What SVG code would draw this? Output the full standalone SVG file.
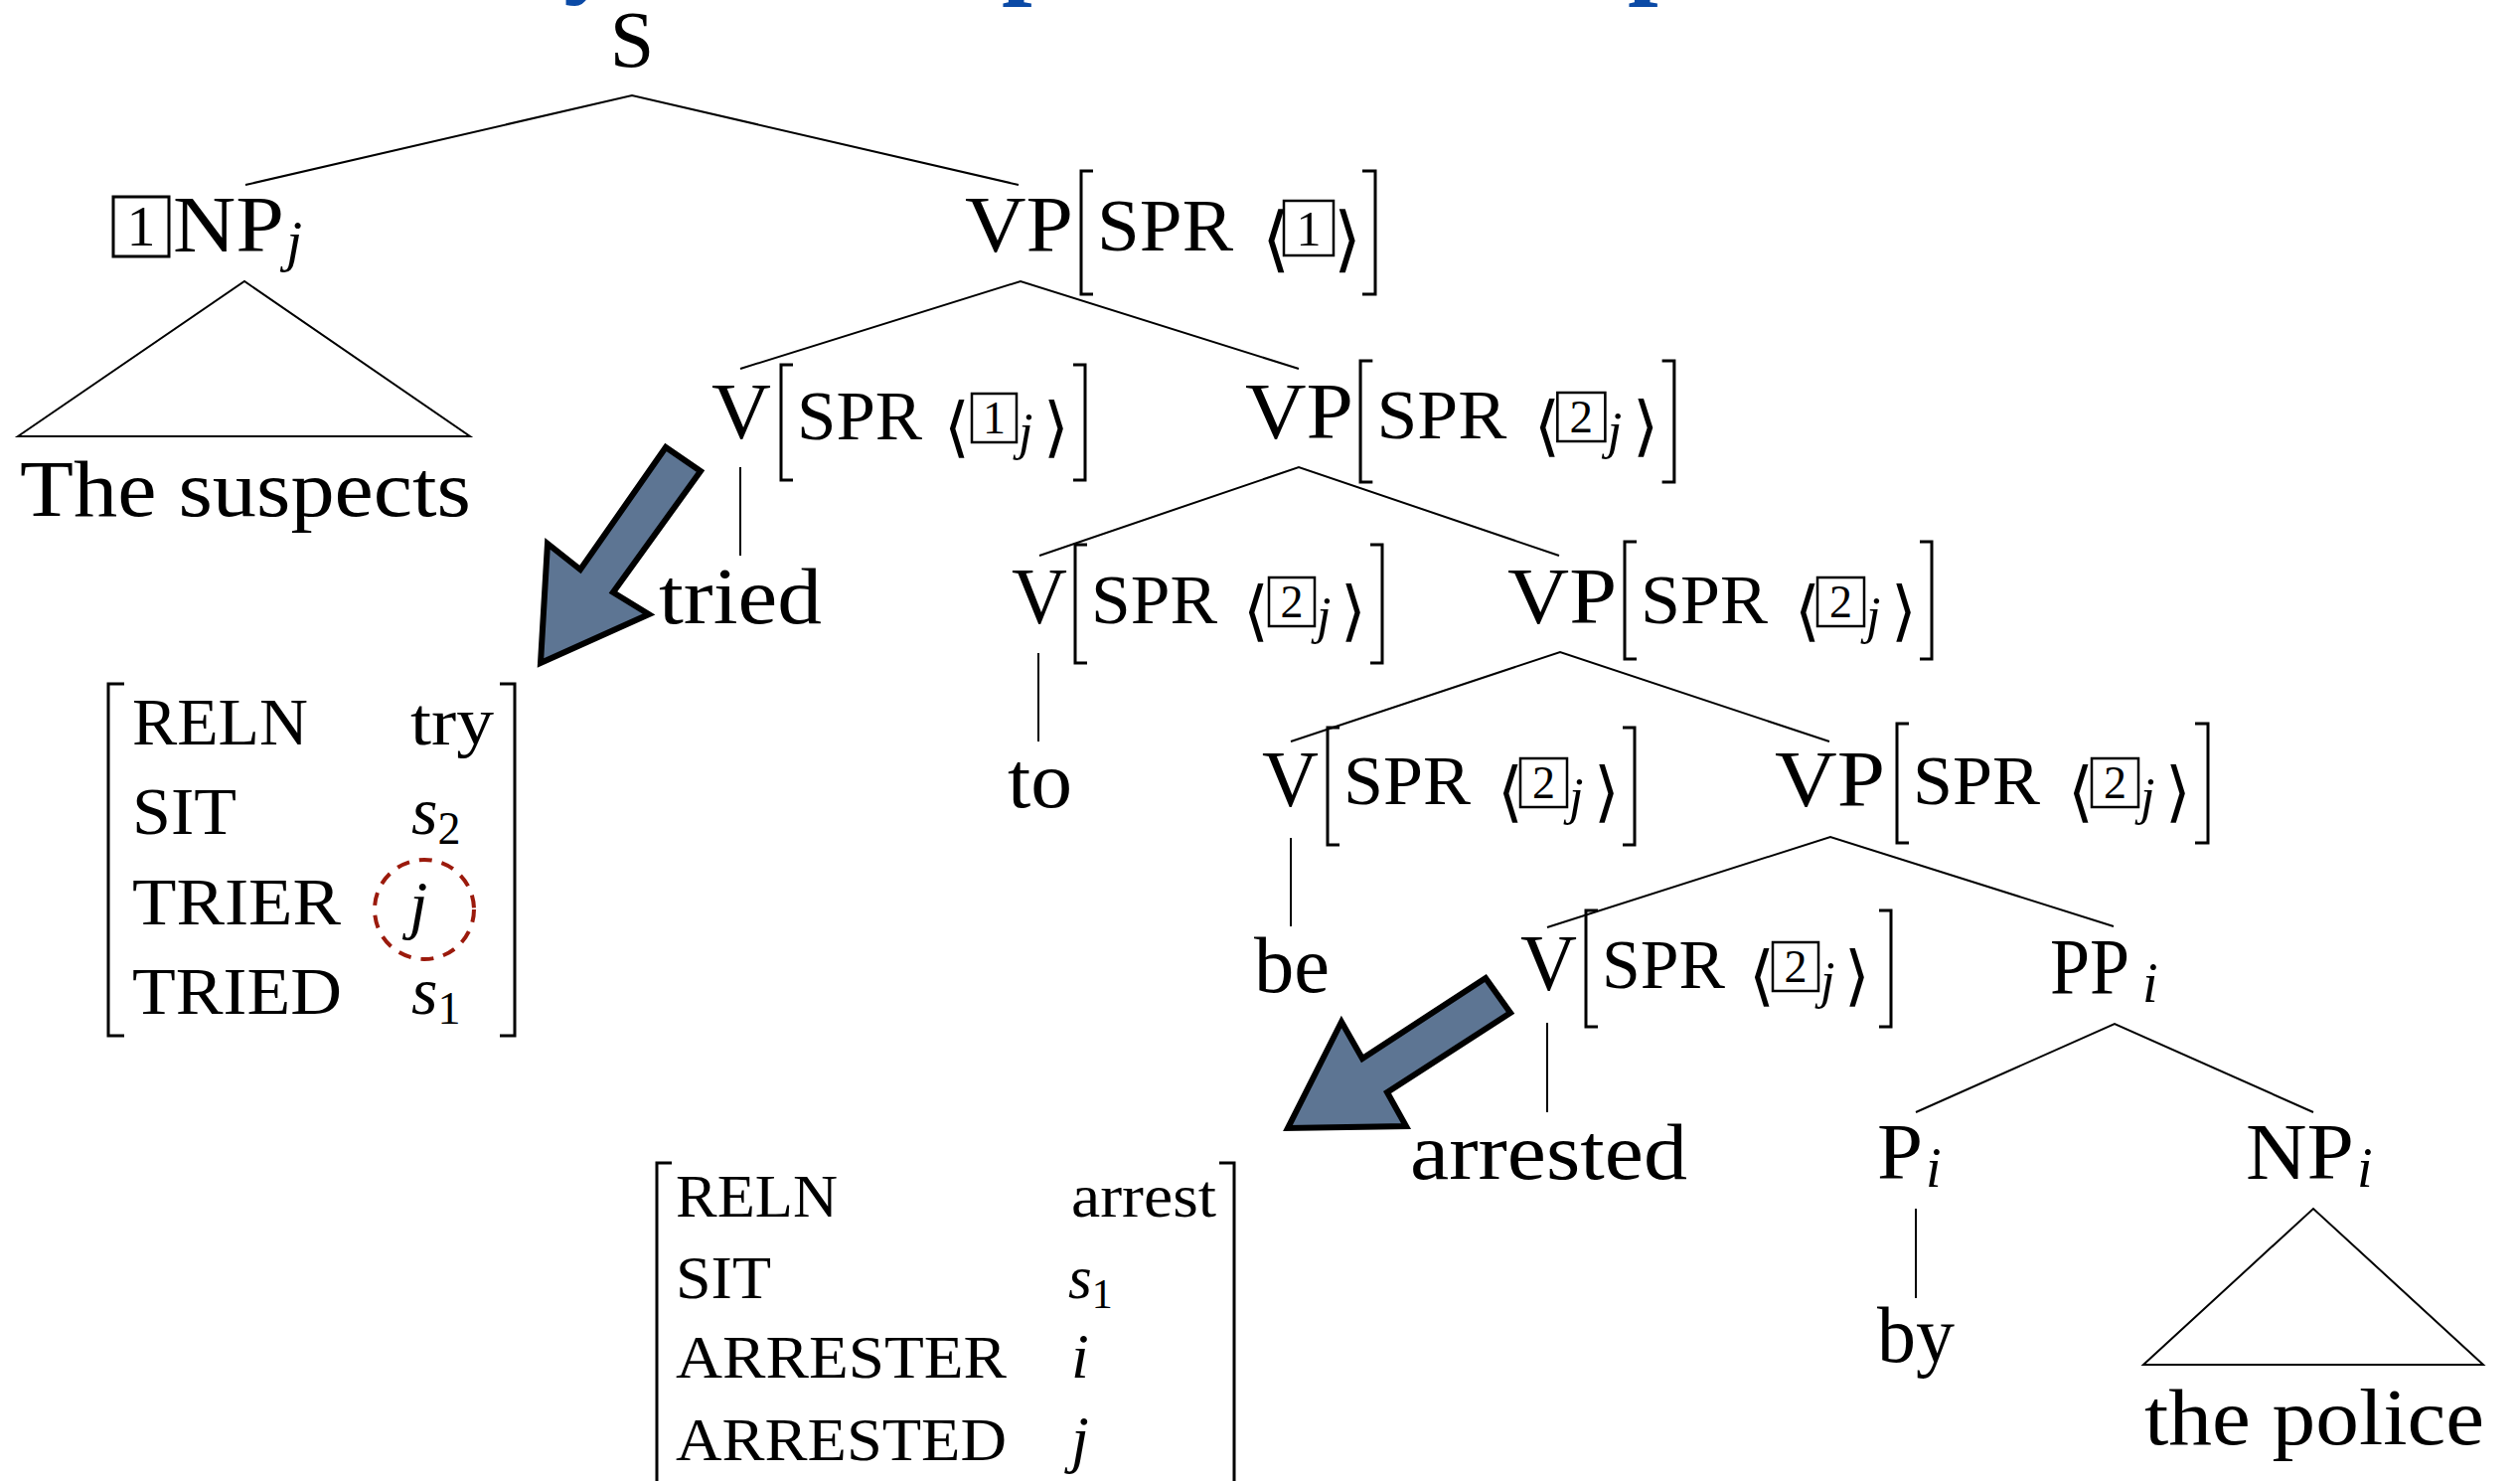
<svg xmlns="http://www.w3.org/2000/svg" width="2536" height="1490" viewBox="0 0 2536 1490">
<style>
text{font-family:"Liberation Serif","Times New Roman",serif;fill:#000}
.cat{font-size:80px}
.ft{font-size:70px}
.avm{font-size:68px}
.avm2{font-size:61px}
.it{font-style:italic}
.ang{font-family:"DejaVu Sans",sans-serif;font-size:66px}
.num{font-size:46px;text-anchor:middle}
.sub{font-style:italic;font-size:52px}
.ttl{font-weight:bold;font-size:110px;fill:#0b4aa6}
.ln{stroke:#000;stroke-width:2;fill:none}
.br{stroke:#000;stroke-width:3;fill:none}
.bx{stroke:#000;stroke-width:2.5;fill:none}
.arrow{fill:#5d7593;stroke:#000;stroke-width:6;stroke-linejoin:miter}
.circ{fill:none;stroke:#9b1a0c;stroke-width:4;stroke-dasharray:13 10}
</style>

<g id="title">
<text class="ttl" x="567" y="-17">y</text>
<text class="ttl" x="1008" y="-16">p</text>
<text class="ttl" x="1638" y="-16">p</text>
</g>

<g id="connectors">
<path class="ln" d="M247,186 L636,96 L1025,186"/>
<path class="ln" d="M18,439 L246,283 L473,439 Z"/>
<path class="ln" d="M745,371 L1027,283 L1307,371"/>
<path class="ln" d="M745,470 V559"/>
<path class="ln" d="M1046,559 L1307,470 L1569,559"/>
<path class="ln" d="M1045,657 V746"/>
<path class="ln" d="M1299,746 L1570,656 L1841,746"/>
<path class="ln" d="M1299,843 V932"/>
<path class="ln" d="M1557,933 L1842,842 L2127,932"/>
<path class="ln" d="M1557,1029 V1119"/>
<path class="ln" d="M1928,1119 L2128,1030 L2328,1119"/>
<path class="ln" d="M1928,1216 V1306"/>
<path class="ln" d="M2157,1373 L2328,1216 L2499,1373 Z"/>
</g>

<g id="node-S"><text class="cat" x="636" y="67" text-anchor="middle">S</text></g>

<g id="node-NPj">
<rect class="br" x="114" y="198" width="56" height="60"/>
<text class="num" x="142" y="247" style="font-size:58px">1</text>
<text class="cat" x="174" y="253" textLength="112" lengthAdjust="spacingAndGlyphs">NP</text>
<text class="sub" x="288" y="262" style="font-size:58px">j</text>
</g>
<g id="node-the-suspects"><text class="cat" x="20" y="519" textLength="454" lengthAdjust="spacingAndGlyphs">The suspects</text></g>

<g id="node-VP1">
<text class="cat" x="971" y="253" textLength="109" lengthAdjust="spacingAndGlyphs">VP</text>
<g transform="translate(1085,252)">
<path class="br" d="M15,-80H3V44H15"/>
<text class="ft" x="19" y="0" textLength="137" lengthAdjust="spacingAndGlyphs" style="font-size:74px">SPR</text>
<text class="ang" x="185" y="13" style="font-size:72px">⟨</text>
<rect class="bx" x="207" y="-50" width="50" height="55"/>
<text class="num" x="232" y="-5" style="font-size:50px">1</text>
<text class="ang" x="257" y="13" style="font-size:72px">⟩</text>
<path class="br" d="M286,-80H299V44H286"/>
</g>
</g>

<g id="node-V2">
<text class="cat" x="716" y="441" textLength="60" lengthAdjust="spacingAndGlyphs">V</text>
<g transform="translate(783,442)">
<path class="br" d="M15,-75H3V41H15"/>
<text class="ft" x="19" y="0" textLength="126" lengthAdjust="spacingAndGlyphs">SPR</text>
<text class="ang" x="167" y="10">⟨</text>
<rect class="bx" x="195" y="-46" width="45" height="49"/>
<text class="num" x="217.5" y="-6">1</text>
<text class="sub" x="242" y="10">j</text>
<text class="ang" x="267" y="10">⟩</text>
<path class="br" d="M297,-75H309V41H297"/>
</g>
</g>
<g id="node-tried"><text class="cat" x="663" y="627" textLength="164" lengthAdjust="spacingAndGlyphs">tried</text></g>

<g id="node-VP2">
<text class="cat" x="1253" y="441" textLength="109" lengthAdjust="spacingAndGlyphs">VP</text>
<g transform="translate(1366,441) scale(1.022,1)">
<path class="br" d="M15,-78H3V44H15"/>
<text class="ft" x="19" y="0" textLength="128" lengthAdjust="spacingAndGlyphs">SPR</text>
<text class="ang" x="174" y="10">⟨</text>
<rect class="bx" x="197" y="-46" width="47" height="49"/>
<text class="num" x="220.5" y="-6">2</text>
<text class="sub" x="246" y="10">j</text>
<text class="ang" x="271" y="10">⟩</text>
<path class="br" d="M300,-78H312V44H300"/>
</g>
</g>

<g id="node-V3">
<text class="cat" x="1018" y="627" textLength="56" lengthAdjust="spacingAndGlyphs">V</text>
<g transform="translate(1079,627)">
<path class="br" d="M15,-79H3V40H15"/>
<text class="ft" x="19" y="0" textLength="127" lengthAdjust="spacingAndGlyphs">SPR</text>
<text class="ang" x="172" y="10">⟨</text>
<rect class="bx" x="198" y="-46" width="46" height="49"/>
<text class="num" x="221" y="-6">2</text>
<text class="sub" x="246" y="10">j</text>
<text class="ang" x="270" y="10">⟩</text>
<path class="br" d="M300,-79H312V40H300"/>
</g>
</g>
<g id="node-to"><text class="cat" x="1014" y="812" textLength="65" lengthAdjust="spacingAndGlyphs">to</text></g>

<g id="node-VP3">
<text class="cat" x="1517" y="627" textLength="110" lengthAdjust="spacingAndGlyphs">VP</text>
<g transform="translate(1632,627)">
<path class="br" d="M15,-82H3V36H15"/>
<text class="ft" x="19" y="0" textLength="128" lengthAdjust="spacingAndGlyphs">SPR</text>
<text class="ang" x="174" y="10">⟨</text>
<rect class="bx" x="197" y="-46" width="47" height="49"/>
<text class="num" x="220.5" y="-6">2</text>
<text class="sub" x="246" y="10">j</text>
<text class="ang" x="271" y="10">⟩</text>
<path class="br" d="M300,-82H312V36H300"/>
</g>
</g>

<g id="node-V4">
<text class="cat" x="1270" y="811" textLength="57" lengthAdjust="spacingAndGlyphs">V</text>
<g transform="translate(1333,809)">
<path class="br" d="M15,-77H3V41H15"/>
<text class="ft" x="19" y="0" textLength="128" lengthAdjust="spacingAndGlyphs">SPR</text>
<text class="ang" x="174" y="10">⟨</text>
<rect class="bx" x="197" y="-46" width="47" height="49"/>
<text class="num" x="220.5" y="-6">2</text>
<text class="sub" x="246" y="10">j</text>
<text class="ang" x="271" y="10">⟩</text>
<path class="br" d="M300,-77H312V41H300"/>
</g>
</g>
<g id="node-be"><text class="cat" x="1262" y="998" textLength="76" lengthAdjust="spacingAndGlyphs">be</text></g>

<g id="node-VP4">
<text class="cat" x="1786" y="811" textLength="111" lengthAdjust="spacingAndGlyphs">VP</text>
<g transform="translate(1906,809)">
<path class="br" d="M15,-81H3V39H15"/>
<text class="ft" x="19" y="0" textLength="128" lengthAdjust="spacingAndGlyphs">SPR</text>
<text class="ang" x="175" y="10">⟨</text>
<rect class="bx" x="199" y="-46" width="47" height="49"/>
<text class="num" x="222.5" y="-6">2</text>
<text class="sub" x="248" y="10">j</text>
<text class="ang" x="273" y="10">⟩</text>
<path class="br" d="M303,-81H316V39H303"/>
</g>
</g>

<g id="node-V5">
<text class="cat" x="1530" y="996" textLength="57" lengthAdjust="spacingAndGlyphs">V</text>
<g transform="translate(1593,994)">
<path class="br" d="M15,-78H3V39H15"/>
<text class="ft" x="19" y="0" textLength="124" lengthAdjust="spacingAndGlyphs">SPR</text>
<text class="ang" x="167" y="10">⟨</text>
<rect class="bx" x="191" y="-46" width="46" height="49"/>
<text class="num" x="214" y="-6">2</text>
<text class="sub" x="239" y="10">j</text>
<text class="ang" x="263" y="10">⟩</text>
<path class="br" d="M298,-78H310V39H298"/>
</g>
</g>
<g id="node-arrested"><text class="cat" x="1419" y="1186" textLength="279" lengthAdjust="spacingAndGlyphs">arrested</text></g>

<g id="node-PPi">
<text class="cat" x="2063" y="1000" textLength="80" lengthAdjust="spacingAndGlyphs">PP</text>
<text class="sub" x="2156" y="1008" style="font-size:56px">i</text>
</g>
<g id="node-Pi">
<text class="cat" x="1889" y="1186" textLength="46" lengthAdjust="spacingAndGlyphs">P</text>
<text class="sub" x="1938" y="1194" style="font-size:56px">i</text>
</g>
<g id="node-by"><text class="cat" x="1889" y="1370" textLength="78" lengthAdjust="spacingAndGlyphs">by</text></g>
<g id="node-NPi">
<text class="cat" x="2260" y="1186" textLength="109" lengthAdjust="spacingAndGlyphs">NP</text>
<text class="sub" x="2372" y="1194" style="font-size:56px">i</text>
</g>
<g id="node-the-police"><text class="cat" x="2158" y="1453" textLength="342" lengthAdjust="spacingAndGlyphs">the police</text></g>

<g id="avm-try">
<path class="br" d="M125,688H109V1042H125"/>
<path class="br" d="M503,688H518V1042H503"/>
<text class="avm" x="133" y="749" textLength="177" lengthAdjust="spacingAndGlyphs">RELN</text>
<text class="avm" x="413" y="749" textLength="84" lengthAdjust="spacingAndGlyphs">try</text>
<text class="avm" x="133" y="839" textLength="105" lengthAdjust="spacingAndGlyphs">SIT</text>
<text class="avm it" x="414" y="839">s<tspan style="font-style:normal;font-size:46px" dy="10">2</tspan></text>
<text class="avm" x="133" y="930" textLength="210" lengthAdjust="spacingAndGlyphs">TRIER</text>
<text class="avm it" x="412" y="932" style="font-size:66px">j</text>
<circle class="circ" cx="427" cy="915" r="50"/>
<text class="avm" x="133" y="1020" textLength="211" lengthAdjust="spacingAndGlyphs">TRIED</text>
<text class="avm it" x="414" y="1020">s<tspan style="font-style:normal;font-size:46px" dy="10">1</tspan></text>
</g>

<g id="avm-arrest">
<path class="br" d="M676,1170H661V1500"/>
<path class="br" d="M1227,1170H1242V1500"/>
<text class="avm2" x="680" y="1224" textLength="163" lengthAdjust="spacingAndGlyphs">RELN</text>
<text class="avm2" x="1078" y="1224" textLength="146" lengthAdjust="spacingAndGlyphs">arrest</text>
<text class="avm2" x="680" y="1306" textLength="96" lengthAdjust="spacingAndGlyphs">SIT</text>
<text class="avm2 it" x="1075" y="1306">s<tspan style="font-style:normal;font-size:42px" dy="10">1</tspan></text>
<text class="avm2" x="680" y="1386" textLength="333" lengthAdjust="spacingAndGlyphs">ARRESTER</text>
<text class="avm2 it" x="1078" y="1386" style="font-size:64px">i</text>
<text class="avm2" x="680" y="1469" textLength="333" lengthAdjust="spacingAndGlyphs">ARRESTED</text>
<text class="avm2 it" x="1078" y="1469" style="font-size:64px">j</text>
</g>

<g id="arrows">
<polygon class="arrow" points="670,450 705,474 617,596 653,618 544,667 551,547 584,573"/>
<polygon class="arrow" points="1495,984 1520,1019 1396,1099 1415,1133 1296,1135 1350,1028 1371,1065"/>
</g>
</svg>
